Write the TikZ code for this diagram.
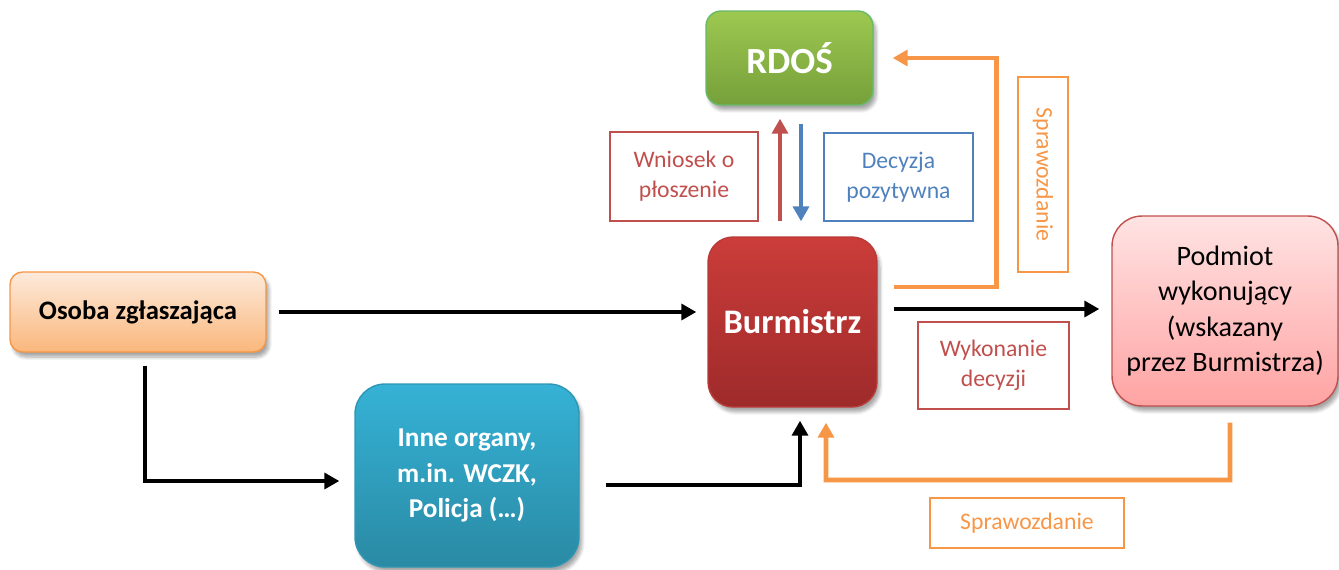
\documentclass[tikz,border=0pt]{standalone}
\usepackage{fontspec}
\setmainfont{Carlito}
\usetikzlibrary{arrows.meta,shadows.blur}
\definecolor{accOrange}{HTML}{F79646}
\definecolor{accRed}{HTML}{C0504D}
\definecolor{accBlue}{HTML}{4F81BD}
\begin{document}
\begin{tikzpicture}[x=0.02cm, y=-0.02cm,
    box/.style={rounded corners=#1, align=center, inner sep=0pt, line width=0.8pt,
      blur shadow={shadow xshift=0.6mm, shadow yshift=-1mm, shadow blur steps=6, shadow opacity=35}},
    lbl/.style={draw=#1, text=#1, line width=0.9pt, align=center, inner sep=0pt,
      font=\fontsize{13.5}{17}\selectfont},
    flow/.style={line width=2.8pt, -{Triangle[length=8.5pt,width=9pt]}}]
    \useasboundingbox (0,0) rectangle (1339,569);
    % Boxes
    \node[box=0.3cm, draw=green!55!black!60, top color={rgb,255:red,157;green,200;blue,80}, bottom color={rgb,255:red,118;green,160;blue,58},
      minimum width=3.34cm, minimum height=1.88cm, text=white, font=\fontsize{21}{25}\selectfont\bfseries] (rdos) at (789.5,58) {RDOŚ};
    \node[box=0.25cm, draw=accOrange, top color={rgb,255:red,253;green,234;blue,219}, bottom color={rgb,255:red,250;green,183;blue,124},
      minimum width=5.12cm, minimum height=1.6cm, font=\fontsize{15.2}{18}\selectfont\bfseries] (osoba) at (138,312) {Osoba zgłaszająca};
    \node[box=0.6cm, draw={rgb,255:red,46;green,150;blue,180}, top color={rgb,255:red,53;green,178;blue,214}, bottom color={rgb,255:red,42;green,138;blue,164},
      minimum width=4.48cm, minimum height=3.66cm, text=white, font=\fontsize{15.5}{20}\selectfont\bfseries] (inne) at (467,475.5) {Inne organy,\\m.in. WCZK,\\Policja (…)};
    \node[box=0.5cm, draw={rgb,255:red,185;green,58;blue,55}, top color={rgb,255:red,203;green,61;blue,58}, bottom color={rgb,255:red,158;green,42;blue,42},
      minimum width=3.38cm, minimum height=3.4cm, text=white, font=\fontsize{19.6}{23}\selectfont\bfseries] (burm) at (792.5,322) {Burmistrz};
    \node[box=0.6cm, draw=accRed, top color={rgb,255:red,255;green,227;blue,227}, bottom color={rgb,255:red,255;green,163;blue,163},
      minimum width=4.52cm, minimum height=3.8cm, font=\fontsize{16}{20}\selectfont] (podm) at (1225,311) {Podmiot\\wykonujący\\(wskazany\\przez Burmistrza)};
    % Labels
    \node[lbl=accRed, minimum width=2.96cm, minimum height=1.78cm] (wniosek) at (684,176.5) {Wniosek o\\płoszenie};
    \node[lbl=accBlue, minimum width=2.98cm, minimum height=1.76cm] (decyzja) at (898.5,177) {Decyzja\\pozytywna};
    \node[lbl=accOrange, rotate=-90, minimum width=3.9cm, minimum height=1.0cm] (sprawV) at (1043,174.5) {Sprawozdanie};
    \node[lbl=accRed, minimum width=3.02cm, minimum height=1.74cm] (wykon) at (993.5,365.5) {Wykonanie\\decyzji};
    \node[lbl=accOrange, minimum width=3.88cm, minimum height=1.0cm] (sprawH) at (1027,523) {Sprawozdanie};
    % Black arrows
    \draw[flow] ([xshift=0.24cm]osoba.east) -- ([xshift=-0.22cm]osoba.east -| burm.west);
    \draw[flow] ([xshift=0.14cm,yshift=-0.26cm]osoba.south) |- ([xshift=-0.3cm,yshift=-0.11cm]inne.west);
    \draw[flow] ([xshift=0.52cm,yshift=-0.19cm]inne.east) -| ([xshift=0.15cm,yshift=-0.26cm]burm.south);
    \draw[flow] ([xshift=0.32cm,yshift=0.26cm]burm.east) -- ([xshift=-0.24cm,yshift=0.26cm]burm.east -| podm.west);
    % RDOS arrows
    \draw[flow, accRed] ([xshift=-0.25cm,yshift=0.3cm]burm.north) -- ([xshift=-0.25cm,yshift=-0.26cm]burm.north |- rdos.south);
    \draw[flow, accBlue] ([xshift=0.17cm,yshift=-0.36cm]burm.north |- rdos.south) -- ([xshift=0.17cm,yshift=0.3cm]burm.north);
    % Reports
    \draw[flow, accOrange] ([xshift=0.32cm,yshift=0.7cm]burm.east) -| ([xshift=2.46cm]rdos.east) -- ([xshift=0.38cm]rdos.east);
    \coordinate (back) at (826,480);
    \draw[flow, accOrange] ([xshift=0.1cm,yshift=-0.32cm]podm.south) |- (back) -- ([xshift=0.67cm,yshift=-0.3cm]burm.south);
\end{tikzpicture}
\end{document}
